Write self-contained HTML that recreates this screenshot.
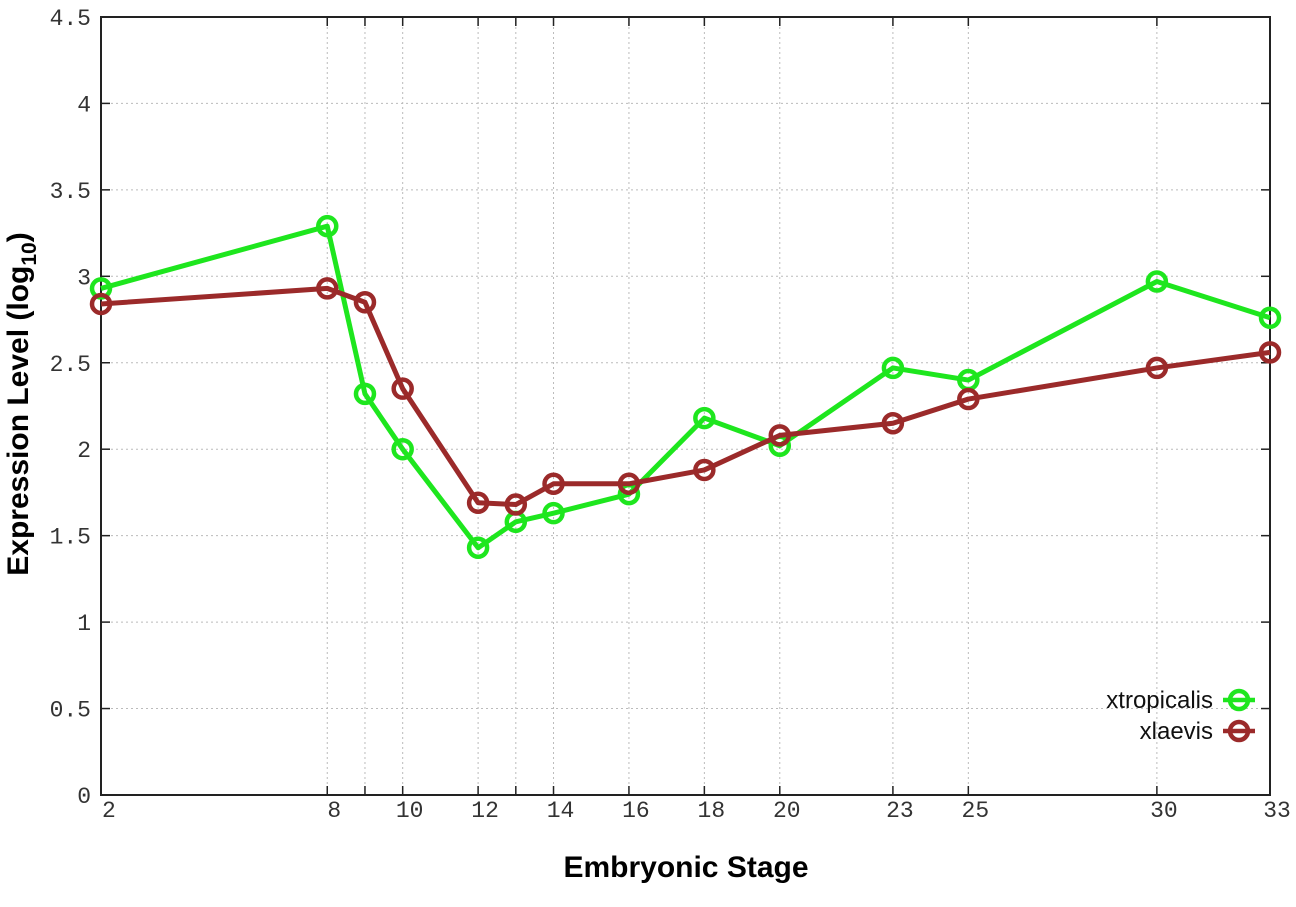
<!DOCTYPE html>
<html><head><meta charset="utf-8"><style>body{margin:0;background:#fff}svg{display:block}</style></head>
<body>
<svg id="s" width="1296" height="907" xmlns="http://www.w3.org/2000/svg" font-family="Liberation Mono, monospace">
<rect width="1296" height="907" fill="#fff"/>
<g id="grid" stroke="#bbb" stroke-width="1" stroke-dasharray="2,3"></g>
<g id="ticks" stroke="#222" stroke-width="1.5"></g>
<rect x="101" y="17" width="1169" height="778" fill="none" stroke="#222" stroke-width="2"/>
<g id="labels" font-size="23" fill="#333"></g>
<g id="series"></g>
<text x="686" y="877" text-anchor="middle" font-family="Liberation Sans, sans-serif" font-weight="bold" font-size="30">Embryonic Stage</text>
<text transform="translate(28,404) rotate(-90)" text-anchor="middle" font-family="Liberation Sans, sans-serif" font-weight="bold" font-size="30">Expression Level (log<tspan font-size="21" dy="8">10</tspan><tspan dy="-8">)</tspan></text>
<g font-family="Liberation Sans, sans-serif" font-size="24" fill="#111" text-anchor="end">
<text x="1213" y="708">xtropicalis</text>
<text x="1213" y="739">xlaevis</text>
</g>
<g stroke-width="4.5" fill="none">
<line x1="1223" y1="700" x2="1255" y2="700" stroke="#1ee61e"/><circle cx="1239" cy="700" r="9" stroke="#1ee61e"/>
<line x1="1223" y1="731" x2="1255" y2="731" stroke="#9b2a2a"/><circle cx="1239" cy="731" r="9" stroke="#9b2a2a"/>
</g>
</svg>
<script>
const X=s=>101+(s-2)*37.71, Y=v=>795-172.9*v, ns="http://www.w3.org/2000/svg";
function el(p,t,a,txt){const e=document.createElementNS(ns,t);for(const k in a)e.setAttribute(k,a[k]);if(txt!=null)e.textContent=txt;document.getElementById(p).appendChild(e);}
const st=[2,8,9,10,12,13,14,16,18,20,23,25,30,33], lab=[2,8,10,12,14,16,18,20,23,25,30,33];
st.forEach(s=>{el('grid','line',{x1:X(s),x2:X(s),y1:17,y2:795});el('ticks','line',{x1:X(s),x2:X(s),y1:795,y2:786});el('ticks','line',{x1:X(s),x2:X(s),y1:17,y2:26});});
lab.forEach(s=>el('labels','text',{x:s==2?102:X(s)+7,y:817,'text-anchor':s==2?'start':'middle'},String(s)));
for(let i=0;i<=9;i++){const v=i*0.5,y=Y(v);el('grid','line',{x1:101,x2:1270,y1:y,y2:y});el('ticks','line',{x1:101,x2:110,y1:y,y2:y});el('ticks','line',{x1:1261,x2:1270,y1:y,y2:y});el('labels','text',{x:91,y:y+8,'text-anchor':'end'},String(v));}
const g=[2.93,3.29,2.32,2.0,1.43,1.58,1.63,1.74,2.18,2.02,2.47,2.40,2.97,2.76];
const r=[2.84,2.93,2.85,2.35,1.69,1.68,1.80,1.80,1.88,2.08,2.15,2.29,2.47,2.56];
[[g,'#1ee61e'],[r,'#9b2a2a']].forEach(([d,c])=>{
el('series','polyline',{points:st.map((s,i)=>X(s)+','+Y(d[i])).join(' '),fill:'none',stroke:c,'stroke-width':5,'stroke-linejoin':'round'});
st.forEach((s,i)=>el('series','circle',{cx:X(s),cy:Y(d[i]),r:9,fill:'none',stroke:c,'stroke-width':4.5}));});
</script>
</body></html>
